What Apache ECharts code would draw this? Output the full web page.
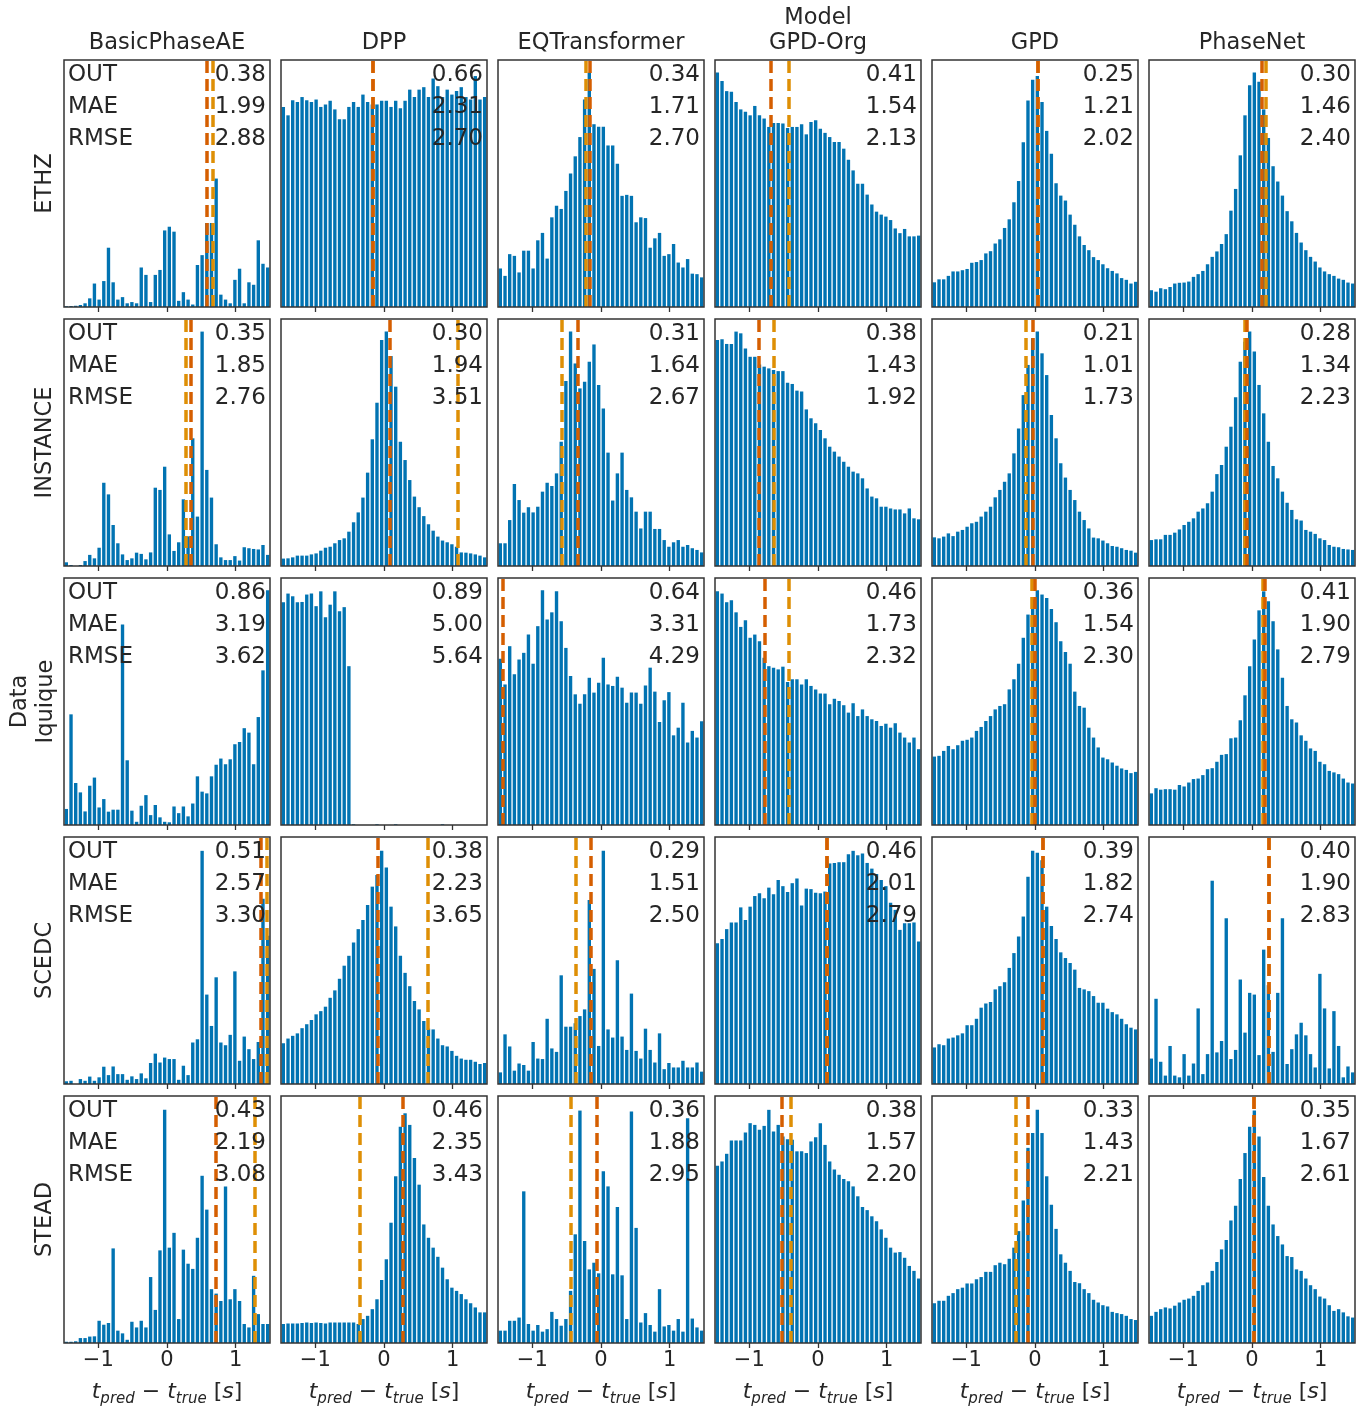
<!DOCTYPE html>
<html>
<head>
<meta charset="utf-8">
<script src="https://cdn.jsdelivr.net/npm/echarts@6/dist/echarts.min.js"></script>
<style>
html,body{margin:0;padding:0;background:#fff;}
#chart{width:1369px;height:1410px;}
</style>
</head>
<body>
<div id="chart"></div>
<script>
// ---------- categories ----------
const MODELS = ['BasicPhaseAE', 'DPP', 'EQTransformer', 'GPD-Org', 'GPD', 'PhaseNet'];
const DATASETS = ['ETHZ', 'INSTANCE', 'Data\nIquique', 'SCEDC', 'STEAD'];
const STAT_NAMES = ['OUT', 'MAE', 'RMSE'];
const TICK_VALUES = [-1, 0, 1];
const BIN_MIN = -1.5, BIN_MAX = 1.5, N_BINS = 44;

// ---------- histogram heights (% of axis height), 44 bins from -1.5 to 1.5 s ----------
const ethz_BasicPhaseAE = [0.3,0.4,0.5,0.8,1.5,3.5,9.5,3,10.5,24,10,3,4,1.5,2,1.5,16,13,2,13,15,31,32.5,30.5,2.5,6,3,1,17,21,34,34,52,5,3,1.5,11,15.5,1.5,10,9,27,17.5,16];
const ethz_DPP = [81,77.6,83.7,83,85,83.7,83,84,81,82,83.5,80,76,76,81,83,81,86,83,82,82,83.5,83.5,81,83.5,80.5,83.5,88,85,88,89,85,92.5,89.4,85,88,86,87.5,89,85,84,93.5,84,85];
const ethz_EQTransformer = [15.6,12.6,21.4,20.7,14,22.8,22.8,15.6,27,30,19.6,36.3,41,39.7,47,54,61,68.8,84,94.9,74,73,73,65.4,65.4,58,45,45.4,45,34.3,36.3,36,24,27.8,30,20.7,21.4,25.5,18,16,19.4,13.5,13.3,12];
const ethz_GPDOrg = [94.9,91.5,87.4,87.1,83,80,79,77.6,81.4,77.6,76.3,72.9,74.5,74.5,74.3,72.5,72.9,72.9,74,69.9,74.9,75.6,72.2,70.5,68.8,66.8,66.8,64.1,59.6,55.3,49.9,49.9,45.5,41.5,38.6,37.4,36.6,35.2,31.8,29.9,31.6,28.6,28.6,28.9];
const ethz_GPD = [10,11.2,11.2,12.6,14.4,14.4,14.9,15.4,17.9,18.2,19,21.7,22.6,25.7,27.4,32,35.5,42.4,51,66.7,83.6,92,93.5,83,71.3,62,50.1,45.1,43.1,37.4,33.3,28.6,25.1,23,20.2,19,17.3,15.7,14.6,13.6,11.7,11,9.5,10.2];
const ethz_PhaseNet = [6.8,6.2,7.6,7.2,8.1,9.5,9.8,9.9,10.3,12.2,13.3,14.6,17.3,20.3,22.5,25.5,29.5,39,47.8,61.4,77.6,89.8,94.9,91.2,80,68.4,57,50.8,45.1,38.8,34.7,30,26.1,23,20.3,18.4,16,14.4,13.3,12.6,11.5,11,9.9,9.5];

const instance_BasicPhaseAE = [1.5,0.4,0,0.4,2,4.5,3.1,7.4,33.7,29,16.6,9.2,4.7,2.4,3.1,5.4,4.9,2.7,5.5,31.7,30.8,40.2,12.8,6.1,9.6,27,12,51.7,20,94.9,38.9,27.7,8.8,3.5,2.4,2.4,4,2.2,7.6,7.2,6.9,6.7,8.5,4.5];
const instance_DPP = [3.0,3.1,3.5,4.2,4.2,4.2,4.7,5.1,6.2,7.4,7.8,9.2,10.5,11.2,13.9,17.7,21.7,27.7,37.8,51.3,66.1,91.5,94.9,85,72.6,50.3,42.9,34.8,28.1,23.8,20.2,16.9,14.3,11.9,10.3,9.6,8.8,7.8,5.5,5.4,5.1,4.7,4.2,3.5];
const instance_EQTransformer = [9.2,9.2,18.6,33.2,26.7,21.6,23.8,21.7,24,30.1,33.7,32.4,37.5,50.3,74.9,94.9,82,71.9,74.6,82.7,89.7,73.3,63.8,45.9,26.5,37.5,45.9,30.8,27.8,22,15.2,22,22,15,15,10.5,7.8,9.6,10.5,7.8,8.5,7.2,6.5,5.5];
const instance_GPDOrg = [91.5,91.8,89.9,89.9,94.9,94.2,88.1,84.7,84.7,81.6,80.7,80,79.4,78.9,78.9,74.2,73.7,71,70.6,63.4,59.8,57.8,55.1,51.7,48.3,46.3,44.3,42.2,40.2,38.2,37.5,35.5,31.4,28.1,27.4,24,24,23.3,22.9,22.9,21.3,23.3,19.3,18.9];
const instance_GPD = [11.6,11.2,11.9,13.2,12.1,13.9,14.6,15.9,17.3,17.9,20,22,24,27.8,30.8,34.1,37.5,45.6,55.7,69.2,81.4,92.2,94.9,86.1,77.3,61.1,51.7,41.6,35.8,30.8,26.7,22,18.6,15.2,11.5,11.2,10.3,9.2,8.1,7.8,7.2,6.5,6.2,5.4];
const instance_PhaseNet = [10.5,10.8,10.8,12.6,12.6,13.5,14.8,16.6,17.9,19.3,22,23.3,25.4,30.1,37.2,40.9,48.3,56.4,68.3,82.7,90.8,94.9,86.8,73.3,61.8,50.3,40.5,35.5,30.1,25.6,22.7,18.9,18.4,14.6,13.9,13,11.2,10.5,8.5,7.8,7.6,6.9,6.7,6.5];

const iquique_BasicPhaseAE = [6.5,44.8,17,13.2,5.5,15.9,19.2,7.1,10.5,5.4,6.2,6.2,81.2,26.2,5.8,1.3,7.8,12.1,4,8.1,3.1,1.3,1.1,7.5,4.8,7.5,3.5,8.7,19.7,13.5,12.8,19.7,24.4,26.9,24.6,26.6,32.7,33.6,39.2,37.4,24.6,43.7,62.6,95];
const iquique_DPP = [90.2,93.7,92.6,90.2,90.3,93.3,93.7,88.6,94.6,84.1,89.2,94.6,86.5,88.2,64.3,0.3,0,0,0,0,0.3,0,0,0,0.3,0,0,0,0,0,0,0,0,0,0.3,0,0,0,0,0,0,0,0,0];
const iquique_EQTransformer = [67.3,56.9,72.4,61,67,69.7,77.1,65.3,80.5,95,83.2,86.1,94.6,82.5,71.7,60.3,52.9,49.1,52.9,59.6,53.6,57.6,67.7,56.9,56.3,60,55.6,49.5,53.6,53.6,49.1,56.5,63.7,54,41.7,50.5,53.8,36.3,39.4,49.5,33.4,38.1,35.4,42];
const iquique_GPDOrg = [94.6,93.7,90.2,91,86.1,80.2,82.9,75.8,77.1,74.4,67.7,64.3,63.7,63,64.1,57.9,59,59,56.9,59,56.3,54.9,53.2,53.2,48.9,51.1,50.2,48.5,45.5,49.3,44.1,46.8,44.1,42.8,42.1,40.1,41,39.4,41.2,37.4,35.4,33.4,35.4,30.7];
const iquique_GPD = [27.7,28,30,32,30.7,32.3,34.1,34.5,35.4,38.1,39.7,42.1,44.1,46.8,48.2,48.9,54.9,59,65.3,75.8,85.2,91.3,95,93.3,91.9,87.5,82.1,74.4,70,65.3,54,48.2,47.5,39.4,35.4,31.4,27.3,26.6,25.3,24,22.9,22.3,21,21.5];
const iquique_PhaseNet = [12.8,14.9,14.3,14.5,14.5,14.3,16.2,15.6,17.2,18.6,18.8,20.2,22.6,23,25.6,28.4,28.7,35.1,35.4,42.4,52.5,64.3,75.1,86.9,94.6,90.6,82.5,71.1,59.6,48.2,42.8,41.5,36.3,34.1,31,30,25.6,24.6,21.9,21.3,20.6,18.8,17.2,16.8];

const scedc_BasicPhaseAE = [1.1,1.3,0,2,1.3,3,1.3,2.7,7,3.6,7.1,4,4,1.7,3.1,2,4.3,2.3,8.5,12.3,8.7,10.7,10.1,10.1,1.7,7.4,3.6,16.8,18.1,94.4,36.2,23.5,43.2,16.8,15.7,19.9,45.6,9.4,19.2,14.1,10.1,17,75,60];
const scedc_DPP = [16.5,18.4,19.5,20.5,22.6,24.2,25.9,28.2,29.5,31.3,34.9,37.9,42.6,47.9,51.9,57.3,62.7,66.4,72.5,79.9,84.6,94.4,87.7,71.8,63.8,51.9,45,39.6,33.6,30.2,25.5,22.4,22.1,18.4,15.7,15.2,13.4,11.4,10.3,9.8,9.8,9,8.1,8.5];
const scedc_EQTransformer = [4.7,20.1,15.2,5.4,8.3,7.7,5.4,17,10.3,10.1,26.4,14.4,13,44,23.2,23.2,24.6,27.5,30.2,74.5,46.6,15.4,94.4,22.1,18.8,50.1,19.2,13.8,36.6,13.4,10.3,22.4,13.8,8.7,20.5,6,8.5,6.7,6.7,9.4,6.7,6.7,8.7,5];
const scedc_GPDOrg = [57,58.7,62.7,65.4,65.4,71.5,66.4,71.8,76.1,77.2,75.2,79.5,76.8,82.6,80.1,77.7,81.3,83.2,72.3,79.1,78.9,77.4,77.2,77.9,89.3,89.5,89.8,89.8,93,94.4,92.6,93.3,89.5,87.2,85,82.6,80.1,73.4,70.5,62.4,65.1,65.1,65.4,57.7];
const scedc_GPD = [14.8,16.1,15.7,18.4,18.8,19.7,20.5,23.8,23.8,26.4,30.9,32.6,33.2,38.3,39.6,41.2,47,53,59.7,67.8,83.9,94.4,93.6,90.6,71.8,64,58.7,53.3,51,49,46.3,38.9,38.3,37.6,35.6,32.9,32.9,30.5,29.1,28.2,26.4,24.2,22.8,22.1];
const scedc_PhaseNet = [10.3,34.5,9,3.4,15.4,3.4,2.7,12.1,3.4,8.3,30.6,4,12.1,82.3,12.8,17.4,67.1,10.1,13.8,42.3,20.8,36.9,36.2,11.7,54.4,40,13,36.9,67.1,8.1,14.1,20.1,24.8,19.7,12.1,6.7,44.6,30.6,6.3,29.5,15.4,2.7,7.1,4.7];

const stead_BasicPhaseAE = [0.5,0.5,0.7,2,2,2.6,2.7,9,7.4,8.1,38.3,5,3.9,1.3,8.6,6.3,9,6.3,26.7,13.4,37.5,94.4,38.6,44.6,9.7,37.8,32.1,30,42.6,67.7,54,21.8,20,17,63.4,17.7,21.8,17,7.7,6.3,27.2,11.7,7.7,7.7];
const stead_DPP = [7.7,7.9,7.9,7.9,8.1,8.3,8.1,8.3,8.1,7.9,8.3,8.3,8.3,8.3,8.3,8.3,7.7,9.7,11,13.7,17.7,25.5,33.9,48.7,67.5,87.6,93,88.3,74.9,64.1,48,42.6,38.6,34.9,30.5,25.8,22.4,21.1,19.8,17.7,16.1,14.4,12.4,12.4];
const stead_EQTransformer = [5,5,9,9,10.3,61.4,7.7,5,7.3,4.6,5.6,12.6,9.7,7,9.7,21.1,44,94.1,41.3,29.8,32.5,28.2,69.5,63.4,27.8,55.1,27.4,9.7,93.7,46.6,8.3,12.1,7.3,4.6,21.8,6.7,7.3,5,9.7,4.6,91,9.9,6.3,5];
const stead_GPDOrg = [71.8,73.5,76.6,82,82,82,85.2,89,88.3,86.3,87.9,94.4,85.6,88.3,83.6,82.5,82.3,77.6,77.6,76.9,81.6,83.3,89,80.2,73.5,70.2,68.1,66.4,65.5,63.4,59.4,55.1,53.8,51.3,49.3,46,42.6,38.6,36.6,36.8,34.5,31.2,29.2,26.1];
const stead_GPD = [16.1,17.1,17.1,19.1,20.2,21.8,22.4,24.1,24.1,25.8,26.7,28.8,28.8,31.5,32.5,31.9,34.1,38.6,45.3,57.7,79,85,94.4,85,67.5,56,46.2,35.9,32.5,29.2,24.7,24.2,21.8,20.2,17.5,16.4,15.3,14.8,12.6,12.1,11.7,11,9.7,9.3];
const stead_PhaseNet = [11,12.6,13.7,14.4,14,15.1,16.4,17.5,18,19.1,21.1,23.4,24.5,29.2,32.8,37.9,41.7,49.6,55.6,66.4,76.9,87.6,94.1,83.6,67.2,55.6,48,43.3,39.9,35.2,34.8,29.8,29.2,26.1,23.4,21.8,18.8,18,15.3,13,13.7,12.4,10.8,10.3];

// ---------- dashed reference lines (s), per model column; null = not drawn ----------
const lineOrange_ETHZ     = [0.67, -0.17, -0.22, -0.43, 0.04, 0.20];
const lineDark_ETHZ       = [0.58, -0.17, -0.16, -0.69, 0.04, 0.14];
const lineOrange_INSTANCE = [0.28, 1.07, -0.57, -0.64, -0.13, -0.11];
const lineDark_INSTANCE   = [0.34, 0.09, -0.34, -0.87, -0.04, -0.08];
const lineOrange_Iquique  = [null, null, null, -0.42, -0.05, 0.16];
const lineDark_Iquique    = [null, null, -1.43, -0.77, 0.00, 0.19];
const lineOrange_SCEDC    = [1.45, 0.64, -0.37, 0.13, 0.11, 0.25];
const lineDark_SCEDC      = [1.37, -0.09, -0.15, 0.13, 0.12, 0.25];
const lineOrange_STEAD    = [1.28, -0.36, -0.44, -0.40, -0.28, 0.02];
const lineDark_STEAD      = [0.71, 0.28, -0.06, -0.53, -0.10, 0.02];

// ---------- stats text ----------
const out_ETHZ = ['0.38','0.66','0.34','0.41','0.25','0.30'];
const mae_ETHZ = ['1.99','2.31','1.71','1.54','1.21','1.46'];
const rmse_ETHZ = ['2.88','2.70','2.70','2.13','2.02','2.40'];
const out_INSTANCE = ['0.35','0.30','0.31','0.38','0.21','0.28'];
const mae_INSTANCE = ['1.85','1.94','1.64','1.43','1.01','1.34'];
const rmse_INSTANCE = ['2.76','3.51','2.67','1.92','1.73','2.23'];
const out_Iquique = ['0.86','0.89','0.64','0.46','0.36','0.41'];
const mae_Iquique = ['3.19','5.00','3.31','1.73','1.54','1.90'];
const rmse_Iquique = ['3.62','5.64','4.29','2.32','2.30','2.79'];
const out_SCEDC = ['0.51','0.38','0.29','0.46','0.39','0.40'];
const mae_SCEDC = ['2.57','2.23','1.51','2.01','1.82','1.90'];
const rmse_SCEDC = ['3.30','3.65','2.50','2.79','2.74','2.83'];
const out_STEAD = ['0.43','0.46','0.36','0.38','0.33','0.35'];
const mae_STEAD = ['2.19','2.35','1.88','1.57','1.43','1.67'];
const rmse_STEAD = ['3.08','3.43','2.95','2.20','2.21','2.61'];

// ---------- assemble ----------
const HIST = [
  [ethz_BasicPhaseAE, ethz_DPP, ethz_EQTransformer, ethz_GPDOrg, ethz_GPD, ethz_PhaseNet],
  [instance_BasicPhaseAE, instance_DPP, instance_EQTransformer, instance_GPDOrg, instance_GPD, instance_PhaseNet],
  [iquique_BasicPhaseAE, iquique_DPP, iquique_EQTransformer, iquique_GPDOrg, iquique_GPD, iquique_PhaseNet],
  [scedc_BasicPhaseAE, scedc_DPP, scedc_EQTransformer, scedc_GPDOrg, scedc_GPD, scedc_PhaseNet],
  [stead_BasicPhaseAE, stead_DPP, stead_EQTransformer, stead_GPDOrg, stead_GPD, stead_PhaseNet]
];
const LINES_ORANGE = [lineOrange_ETHZ, lineOrange_INSTANCE, lineOrange_Iquique, lineOrange_SCEDC, lineOrange_STEAD];
const LINES_DARK = [lineDark_ETHZ, lineDark_INSTANCE, lineDark_Iquique, lineDark_SCEDC, lineDark_STEAD];
const STATS = [
  [out_ETHZ, mae_ETHZ, rmse_ETHZ],
  [out_INSTANCE, mae_INSTANCE, rmse_INSTANCE],
  [out_Iquique, mae_Iquique, rmse_Iquique],
  [out_SCEDC, mae_SCEDC, rmse_SCEDC],
  [out_STEAD, mae_STEAD, rmse_STEAD]
];

const binWidth = (BIN_MAX - BIN_MIN) / N_BINS;
const binCenters = Array.from({length: N_BINS}, (_, k) => BIN_MIN + (k + 0.5) * binWidth);

// layout & style
const L0 = 64, DX = 217, T0 = 60, DY = 259, W = 206, H = 247;
const BLUE = '#0173b2', ORANGE = '#de8f05', DARK = '#d55e00';
const TXT = '#262626', FRAME = '#333333';
const FONT = 'DejaVu Sans';
const nRows = DATASETS.length, nCols = MODELS.length;

const grids = [], xAxes = [], yAxes = [], series = [], graphics = [];
const fmtTick = v => (v < 0 ? '\u2212' + Math.abs(v) : String(v));

for (let r = 0; r < nRows; r++) {
  for (let c = 0; c < nCols; c++) {
    const i = r * nCols + c;
    const left = L0 + c * DX, top = T0 + r * DY;
    grids.push({left: left, top: top, width: W, height: H, show: true,
      borderColor: FRAME, borderWidth: 1.5, backgroundColor: 'transparent', z: 10});
    const isBottom = r === nRows - 1;
    xAxes.push({
      gridIndex: i, type: 'value', min: BIN_MIN, max: BIN_MAX,
      axisLine: {show: false}, splitLine: {show: false},
      axisTick: {show: true, customValues: TICK_VALUES, length: 5, inside: false,
        lineStyle: {color: FRAME, width: 1.3}},
      axisLabel: {show: isBottom, customValues: TICK_VALUES, formatter: fmtTick,
        fontSize: 21, color: TXT, fontFamily: FONT, margin: 7},
      name: isBottom ? '{i|t}{s|pred}{n| \u2212 }{i|t}{s|true}{n| [}{i|s}{n|]}' : '',
      nameLocation: 'middle', nameGap: 34,
      nameTextStyle: {
        color: TXT, fontFamily: FONT, fontSize: 20,
        rich: {
          i: {fontStyle: 'italic', fontSize: 22, lineHeight: 30, color: TXT, fontFamily: FONT},
          s: {fontStyle: 'italic', fontSize: 15, lineHeight: 13, verticalAlign: 'bottom', color: TXT, fontFamily: FONT},
          n: {fontSize: 22, lineHeight: 30, color: TXT, fontFamily: FONT}
        }
      }
    });
    yAxes.push({gridIndex: i, type: 'value', min: 0, max: 100, show: false, splitLine: {show: false}});

    const ml = [];
    const vo = LINES_ORANGE[r][c], vd = LINES_DARK[r][c];
    if (vo !== null) ml.push({xAxis: vo, lineStyle: {color: ORANGE}});
    if (vd !== null) ml.push({xAxis: vd, lineStyle: {color: DARK}});

    series.push({
      type: 'bar', xAxisIndex: i, yAxisIndex: i,
      data: HIST[r][c].map((h, k) => [binCenters[k], h]),
      itemStyle: {color: BLUE},
      barCategoryGap: '28%',
      silent: true,
      markLine: {
        silent: true, symbol: ['none', 'none'], label: {show: false},
        lineStyle: {type: [12, 6], width: 3.5},
        animation: false,
        data: ml
      }
    });

    // stats text
    for (let s = 0; s < 3; s++) {
      const y = top + 15 + s * 32;
      graphics.push({type: 'text', x: left + W - 4, y: y, z: 100,
        style: {text: STATS[r][s][c], fill: TXT, fontSize: 23, fontFamily: FONT, align: 'right', verticalAlign: 'middle'}});
      if (c === 0) {
        graphics.push({type: 'text', x: left + 4, y: y, z: 100,
          style: {text: STAT_NAMES[s], fill: TXT, fontSize: 23, fontFamily: FONT, align: 'left', verticalAlign: 'middle'}});
      }
    }
  }
  // row label
  graphics.push({type: 'text', x: DATASETS[r].indexOf('\n') >= 0 ? 33 : 45, y: T0 + r * DY + H / 2,
    rotation: Math.PI / 2, z: 100,
    style: {text: DATASETS[r], fill: TXT, fontSize: 22.5, fontFamily: FONT, align: 'center',
      verticalAlign: 'middle', lineHeight: 26}});
}
// column titles
for (let c = 0; c < nCols; c++) {
  graphics.push({type: 'text', x: L0 + c * DX + W / 2, y: 43, z: 100,
    style: {text: MODELS[c], fill: TXT, fontSize: 22.5, fontFamily: FONT, align: 'center', verticalAlign: 'middle'}});
}
graphics.push({type: 'text', x: L0 + 3 * DX + W / 2, y: 18, z: 100,
  style: {text: 'Model', fill: TXT, fontSize: 22.5, fontFamily: FONT, align: 'center', verticalAlign: 'middle'}});

const chart = echarts.init(document.getElementById('chart'), null, {renderer: 'canvas'});
chart.setOption({
  backgroundColor: '#ffffff',
  animation: false,
  textStyle: {fontFamily: FONT},
  grid: grids,
  xAxis: xAxes,
  yAxis: yAxes,
  series: series,
  graphic: {elements: graphics}
});
</script>
</body>
</html>
